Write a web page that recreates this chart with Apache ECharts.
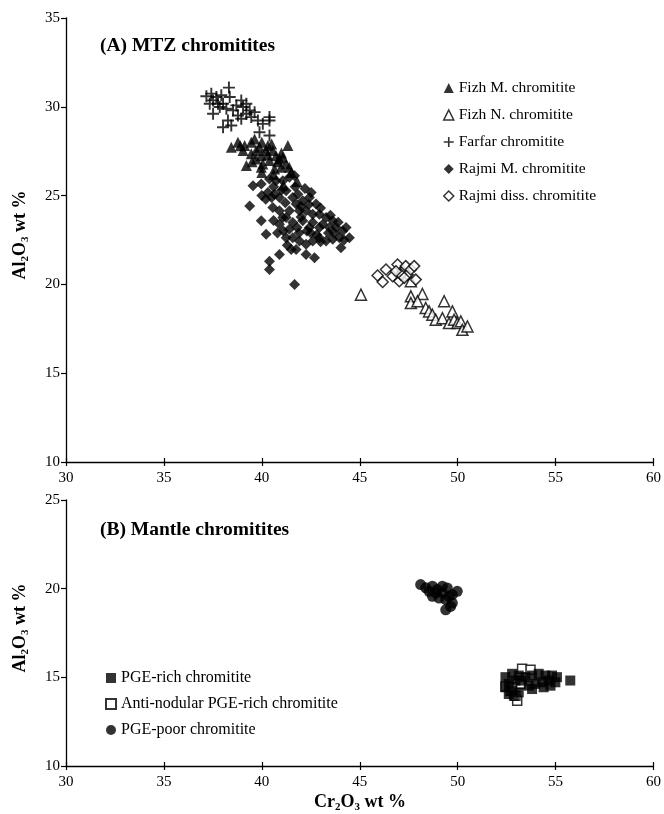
<!DOCTYPE html>
<html><head><meta charset="utf-8">
<script src="https://cdn.jsdelivr.net/npm/echarts@6/dist/echarts.min.js"></script>
<style>html,body{margin:0;padding:0;background:#fff}#c{width:664px;height:814px}</style>
</head><body><div id="c"></div>
<script>
// ---- data (Cr2O3 wt %, Al2O3 wt %) ----
const fizhM = [[38.44,27.72],[38.78,28.01],[39.12,27.82],[39.46,28.01],[39.63,28.19],[39.21,26.69],[39.88,27.72],[40.22,27.54],[40.31,27.82],[40.56,27.54],[40.73,27.25],[40.90,27.06],[41.07,27.16],[41.33,27.82],[39.71,27.06],[40.05,26.78],[39.46,27.35],[40.39,26.97],[39.97,27.25],[41.24,26.78],[40.99,26.59],[40.65,26.50],[39.71,27.54],[39.04,27.54],[39.97,26.59],[41.5,26.3],[41.8,25.8],[41.1,25.6],[40.6,26.2],[40.0,26.3],[40.3,27.3],[39.5,26.9],[38.9,27.8],[40.0,28.0],[40.5,27.9],[41.0,27.4],[40.8,26.9],[41.4,26.6]];
const fizhN = [[45.06,19.42],[47.61,19.33],[48.20,19.46],[47.61,18.95],[47.95,19.05],[48.37,18.67],[48.54,18.48],[49.31,19.05],[48.71,18.29],[48.88,18.01],[49.22,18.10],[49.73,18.48],[49.56,17.82],[49.82,18.01],[49.99,17.82],[50.16,17.92],[50.24,17.44],[50.50,17.63],[47.61,20.18]];
const farfar = [[37.17,30.59],[37.42,30.74],[37.68,30.55],[37.93,30.65],[38.32,31.08],[38.36,30.55],[37.51,30.36],[37.76,30.17],[38.02,30.17],[37.51,29.61],[38.19,29.89],[38.53,29.80],[38.70,30.08],[38.95,30.36],[39.04,29.99],[39.21,30.17],[39.38,29.80],[39.63,29.70],[39.46,29.42],[39.80,29.23],[40.05,29.04],[40.39,29.42],[39.88,28.57],[40.39,28.38],[38.02,28.85],[38.44,28.95],[38.27,29.23],[38.95,29.33],[39.21,29.61],[38.78,29.51],[37.85,29.99],[37.34,30.17],[40.39,29.23]];
const rajmiM = [[39.55,25.56],[39.97,25.65],[40.39,25.93],[40.73,25.84],[41.07,25.84],[41.41,26.03],[41.67,26.12],[40.31,25.18],[40.65,25.08],[40.90,24.90],[41.24,25.27],[41.58,24.90],[41.84,25.08],[42.09,24.71],[42.52,25.18],[42.43,24.90],[42.77,24.52],[41.75,24.52],[41.41,24.14],[41.07,23.76],[40.90,24.14],[40.56,24.33],[41.92,24.14],[42.26,24.14],[42.60,23.95],[42.94,23.95],[43.28,23.76],[43.62,23.58],[43.11,23.39],[43.45,23.20],[43.79,23.20],[44.13,23.01],[44.47,22.63],[43.96,22.63],[43.62,22.54],[43.28,22.44],[42.94,22.63],[42.60,22.44],[42.26,22.26],[41.92,22.44],[41.58,22.63],[41.24,22.63],[41.75,21.97],[42.26,21.69],[42.69,21.50],[40.90,21.69],[41.50,21.97],[40.39,21.31],[40.39,20.84],[40.22,22.82],[39.97,23.58],[39.38,24.42],[41.67,19.99],[44.04,22.07],[42.94,23.20],[42.43,23.20],[42.09,23.58],[41.58,23.48],[41.24,23.76],[40.90,23.39],[42.60,23.48],[40.0,25.0],[40.6,25.5],[41.2,24.6],[42.0,23.8],[42.3,23.0],[41.9,22.9],[43.4,22.9],[42.8,22.8],[40.6,23.6],[41.4,23.1],[40.2,24.8],[40.5,24.9],[41.0,25.3],[41.7,25.5],[42.2,25.4],[42.0,24.4],[42.4,24.5],[43.0,24.3],[43.5,23.9],[43.9,23.5],[44.3,23.2],[43.0,22.4],[42.5,22.9],[41.8,23.2],[41.1,23.0],[40.8,22.9],[41.3,22.2],[43.7,22.9],[44.2,22.5]];
const rajmiDiss = [[45.91,20.50],[46.34,20.84],[46.17,20.14],[46.68,20.46],[46.93,21.12],[47.02,20.18],[47.19,20.74],[47.35,21.03],[47.44,20.55],[47.61,20.84],[47.78,21.03],[47.86,20.27],[47.10,20.55],[46.85,20.74],[47.27,20.37]];
const pgeRich = [[52.44,15.01],[52.78,15.20],[53.12,15.10],[53.46,15.01],[53.80,15.10],[54.14,15.20],[54.48,15.10],[54.82,15.10],[55.07,15.01],[54.65,14.82],[54.31,14.72],[53.97,14.63],[53.63,14.53],[53.29,14.82],[52.95,14.82],[52.61,14.63],[52.44,14.44],[52.78,14.25],[54.99,14.72],[55.75,14.82],[54.74,14.53],[54.39,14.44],[53.80,14.34],[53.12,14.15],[52.61,14.06],[52.87,13.96]];
const antiNodular = [[53.29,15.48],[53.72,15.43],[52.44,14.48],[53.04,13.68],[52.70,14.25],[53.21,14.63],[52.95,13.96],[52.78,14.44]];
const pgePoor = [[48.11,20.23],[48.37,20.05],[48.71,20.14],[48.96,19.95],[49.22,20.14],[49.47,20.04],[49.73,19.67],[49.98,19.85],[48.71,19.57],[49.05,19.47],[49.39,19.38],[49.73,19.19],[49.39,18.81],[49.64,19.00],[49.22,19.76],[48.88,19.76],[48.54,19.85],[49.56,19.57]];

const topNames = ['Fizh M. chromitite','Fizh N. chromitite','Farfar chromitite','Rajmi M. chromitite','Rajmi diss. chromitite'];
const botNames = ['PGE-rich chromitite','Anti-nodular PGE-rich chromitite','PGE-poor chromitite'];

const FONT = '"Liberation Serif", "Times New Roman", serif';
const crossPath = 'path://M0,4.2H10V5.8H0Z M4.2,0H5.8V10H4.2Z';

const chart = echarts.init(document.getElementById('c'), null, {renderer:'canvas'});

function xAx(gi, labels){
  return {gridIndex:gi, type:'value', min:30, max:60, interval:5,
    axisLine:{show:true, onZero:false, lineStyle:{color:'#000', width:1.3}},
    axisTick:{show:true, length:4, lineStyle:{color:'#000', width:1.2}},
    axisLabel:{show:labels, color:'#000', fontFamily:FONT, fontSize:15, margin:9},
    splitLine:{show:false}};
}
function xAxIn(gi){
  return {gridIndex:gi, type:'value', min:30, max:60, interval:5, position:'bottom',
    axisLine:{show:false, onZero:false},
    axisTick:{show:true, inside:true, length:4, lineStyle:{color:'#000', width:1.2}},
    axisLabel:{show:false}, splitLine:{show:false}};
}
function yAx(gi, min, max){
  return {gridIndex:gi, type:'value', min:min, max:max, interval:5,
    axisLine:{show:true, onZero:false, lineStyle:{color:'#000', width:1.3}},
    axisTick:{show:true, length:5, lineStyle:{color:'#000', width:1.2}},
    axisLabel:{color:'#000', fontFamily:FONT, fontSize:15, margin:6},
    splitLine:{show:false}};
}
function sc(name, data, gi, symbol, size, filled, z){
  return {name:name, type:'scatter', xAxisIndex:gi*2, yAxisIndex:gi, data:data,
    symbol:symbol, symbolSize:size, z:z||2,
    itemStyle: filled ? {color:'#000', borderWidth:0} : {color:'#fff', borderColor:'#000', borderWidth:1.5},
    emphasis:{disabled:true}, animation:false};
}

const subRich = {
  b:{fontFamily:FONT, fontSize:18, fontWeight:'bold', color:'#000', lineHeight:22, verticalAlign:'bottom'},
  s:{fontFamily:FONT, fontSize:11, fontWeight:'bold', color:'#000', lineHeight:10, verticalAlign:'bottom', padding:[0,0,-2,0]}
};
const titleStyle = {fontFamily:FONT, fontSize:19.5, fontWeight:'bold', color:'#000'};

chart.setOption({
  animation:false,
  backgroundColor:'#fff',
  grid:[
    {left:66, right:9, top:18, height:444},
    {left:66, right:9, top:500, height:266}
  ],
  xAxis:[xAx(0,true), xAxIn(0), xAx(1,true), xAxIn(1)],
  yAxis:[yAx(0,10,35), yAx(1,10,25)],
  title:[
    {text:'(A) MTZ chromitites', left:100, top:36, padding:0, textStyle:titleStyle},
    {text:'(B) Mantle chromitites', left:100, top:520, padding:0, textStyle:titleStyle}
  ],
  legend:[
    {data:topNames, orient:'vertical', left:443, top:79, padding:0, itemGap:9, itemWidth:10, itemHeight:10, itemStyle:{borderWidth:1.5},
      textStyle:{fontFamily:FONT, fontSize:15.5, color:'#000', lineHeight:18}, selectedMode:false},
    {data:botNames, orient:'vertical', left:105, top:669, padding:0, itemGap:8, itemWidth:10, itemHeight:10,
      textStyle:{fontFamily:FONT, fontSize:16, color:'#000', lineHeight:18}, selectedMode:false}
  ],
  graphic:[
    {type:'text', x:18, y:235, rotation:Math.PI/2, style:{text:'{b|Al}{s|2}{b|O}{s|3}{b| wt %}', rich:subRich, align:'center', verticalAlign:'middle'}},
    {type:'text', x:18, y:628, rotation:Math.PI/2, style:{text:'{b|Al}{s|2}{b|O}{s|3}{b| wt %}', rich:subRich, align:'center', verticalAlign:'middle'}},
    {type:'text', x:360, y:800, style:{text:'{b|Cr}{s|2}{b|O}{s|3}{b| wt %}', rich:subRich, align:'center', verticalAlign:'middle'}}
  ],
  series:[
    sc(topNames[0], fizhM, 0, 'triangle', 11, true, 2),
    sc(topNames[1], fizhN, 0, 'triangle', 11, false, 2),
    sc(topNames[2], farfar, 0, crossPath, 12, true, 3),
    sc(topNames[3], rajmiM, 0, 'diamond', 11, true, 3),
    sc(topNames[4], rajmiDiss, 0, 'diamond', 11, false, 3),
    sc(botNames[0], pgeRich, 1, 'rect', 10, true, 3),
    sc(botNames[1], antiNodular, 1, 'rect', 9, false, 2),
    sc(botNames[2], pgePoor, 1, 'circle', 11, true, 3)
  ]
});
</script></body></html>
